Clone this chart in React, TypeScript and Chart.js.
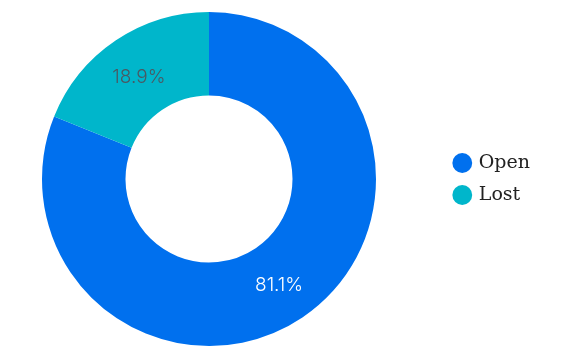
import React, { useEffect, useRef } from "react";
import { Chart, registerables } from "chart.js";

Chart.register(...registerables);

const categories = ["Open", "Lost"];
const values = [81.1, 18.9];
const colors = ["#0070EE", "#00B6CB"];
const labelColors = ["#ffffff", "#4A5862"];

const sliceLabels = {
  id: "sliceLabels",
  afterDatasetsDraw(chart: any) {
    const ctx = chart.ctx;
    const meta = chart.getDatasetMeta(0);
    ctx.save();
    ctx.font = "300 19px Inter";
    ctx.textAlign = "center";
    ctx.textBaseline = "middle";
    meta.data.forEach((arc: any, i: number) => {
      const p = arc.tooltipPosition();
      ctx.fillStyle = labelColors[i];
      ctx.fillText(values[i].toFixed(1) + "%", p.x, p.y + 2);
    });
    ctx.restore();
  },
};

// keep the ring area narrower than the space left by the legend
const ringArea = {
  id: "ringArea",
  afterLayout(chart: any) {
    const a = chart.chartArea;
    a.right = a.left + 418;
    a.width = 418;
  },
};

export default function App() {
  const ref = useRef<HTMLCanvasElement>(null);
  useEffect(() => {
    const chart = new Chart(ref.current!, {
      type: "doughnut",
      data: {
        labels: categories,
        datasets: [
          {
            data: values,
            backgroundColor: colors,
            borderWidth: 0,
          },
        ],
      },
      options: {
        animation: false,
        responsive: false,
        cutout: "50%",
        layout: { padding: { left: 0, right: 21, top: 12, bottom: 10 } },
        plugins: {
          tooltip: { enabled: false },
          legend: {
            position: "right",
            labels: {
              usePointStyle: true,
              pointStyle: "circle",
              boxWidth: 14,
              boxHeight: 14,
              padding: 13,
              color: "#222",
              font: { family: "DejaVu Serif", size: 19 },
            },
          },
        },
      },
      plugins: [ringArea, sliceLabels],
    });
    return () => chart.destroy();
  }, []);
  return (
    <div style={{ position: "absolute", left: 0, top: 0, width: 561, height: 356 }}>
      <canvas ref={ref} width={561} height={356} style={{ display: "block" }} />
    </div>
  );
}
